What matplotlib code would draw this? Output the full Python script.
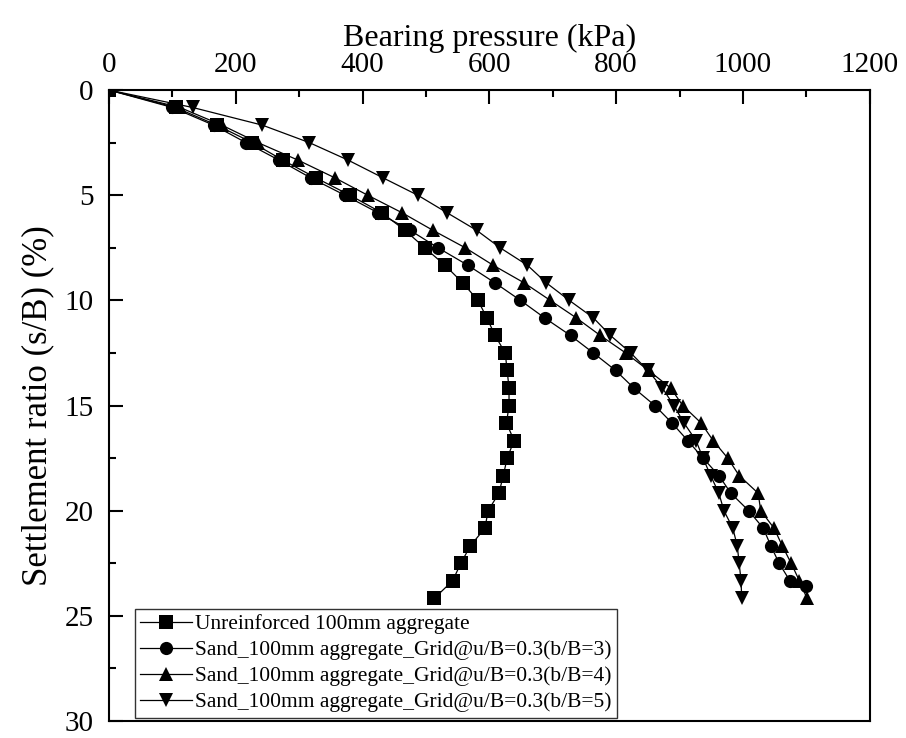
import numpy as np
import matplotlib
matplotlib.use("Agg")
import matplotlib.pyplot as plt
from matplotlib.ticker import MultipleLocator

plt.rcParams['font.family'] = ['Liberation Serif', 'DejaVu Serif']

# settlement ratio (%), same steps for every test
settle = [0, 0.83, 1.67, 2.5, 3.33, 4.17, 5.0, 5.83, 6.67, 7.5, 8.33, 9.17,
          10.0, 10.83, 11.67, 12.5, 13.33, 14.17, 15.0, 15.83, 16.67, 17.5,
          18.33, 19.17, 20.0, 20.83, 21.67, 22.5, 23.33, 24.17]

# bearing pressure (kPa)
unreinf = [0, 105, 170, 226, 274, 326, 380, 430, 467, 498, 530, 558,
           582, 596, 609, 625, 628, 631, 631, 627, 639, 628,
           622, 615, 598, 593, 570, 555, 542, 513]

grid_b3 = [0, 100, 165, 216, 268, 318, 372, 424, 475, 519, 566, 609,
           649, 687, 728, 764, 799, 828, 861, 888, 913, 937,
           962, 981, 1009, 1032, 1044, 1057, 1074, 1100]
settle_b3 = settle[:-1] + [23.6]

grid_b4 = [0, 112, 178, 235, 298, 356, 408, 462, 511, 562, 606, 655,
           696, 737, 775, 815, 851, 886, 905, 934, 953, 976,
           994, 1024, 1028, 1049, 1062, 1076, 1089, 1101]

grid_b5 = [0, 132, 242, 316, 377, 432, 487, 533, 580, 617, 660, 690,
           726, 764, 791, 823, 850, 873, 891, 907, 926, 937,
           949, 962, 970, 984, 991, 994, 997, 998]

labels = ['Unreinforced 100mm aggregate',
          'Sand_100mm aggregate_Grid@u/B=0.3(b/B=3)',
          'Sand_100mm aggregate_Grid@u/B=0.3(b/B=4)',
          'Sand_100mm aggregate_Grid@u/B=0.3(b/B=5)']

fig = plt.figure(figsize=(9.06, 7.38), dpi=100)
ax = fig.add_axes([0.1203, 0.023, 0.8397, 0.855])

style = dict(color='black', linewidth=0.9, markersize=9.5, markeredgewidth=0)
ax.plot(unreinf, settle, marker='s', label=labels[0], **style)
ax.plot(grid_b3, settle_b3, marker='o', label=labels[1], **style)
ax.plot(grid_b4, settle, marker='^', label=labels[2], **style)
ax.plot(grid_b5, settle, marker='v', label=labels[3], **style)

ax.set_xlim(0, 1200)
ax.set_ylim(30, 0)
ax.xaxis.set_major_locator(MultipleLocator(200))
ax.xaxis.set_minor_locator(MultipleLocator(100))
ax.yaxis.set_major_locator(MultipleLocator(5))
ax.yaxis.set_minor_locator(MultipleLocator(2.5))
ax.xaxis.tick_top()
ax.xaxis.set_label_position('top')
ax.tick_params(which='both', direction='in', top=True, bottom=False,
               left=True, right=False, labelsize=21, width=1.5)
ax.tick_params(which='major', length=10)
ax.tick_params(which='minor', length=5)
ax.tick_params(axis='x', which='major', pad=9)
ax.tick_params(axis='y', which='major', pad=11)
for sp in ax.spines.values():
    sp.set_linewidth(1.5)

ax.set_xlabel('Bearing pressure (kPa)', fontsize=23, labelpad=4)
ax.set_ylabel('Settlement ratio (s/B) (%)', fontsize=25, labelpad=7)

leg = ax.legend(loc='lower left', bbox_to_anchor=(0.034, 0.005), fontsize=15.5,
                frameon=True, fancybox=False, edgecolor='black',
                handlelength=2.4, handletextpad=0.15, labelspacing=0.28,
                borderpad=0.25, borderaxespad=0.0)
leg.get_frame().set_linewidth(1.0)

fig.savefig('out.png', dpi=100)
